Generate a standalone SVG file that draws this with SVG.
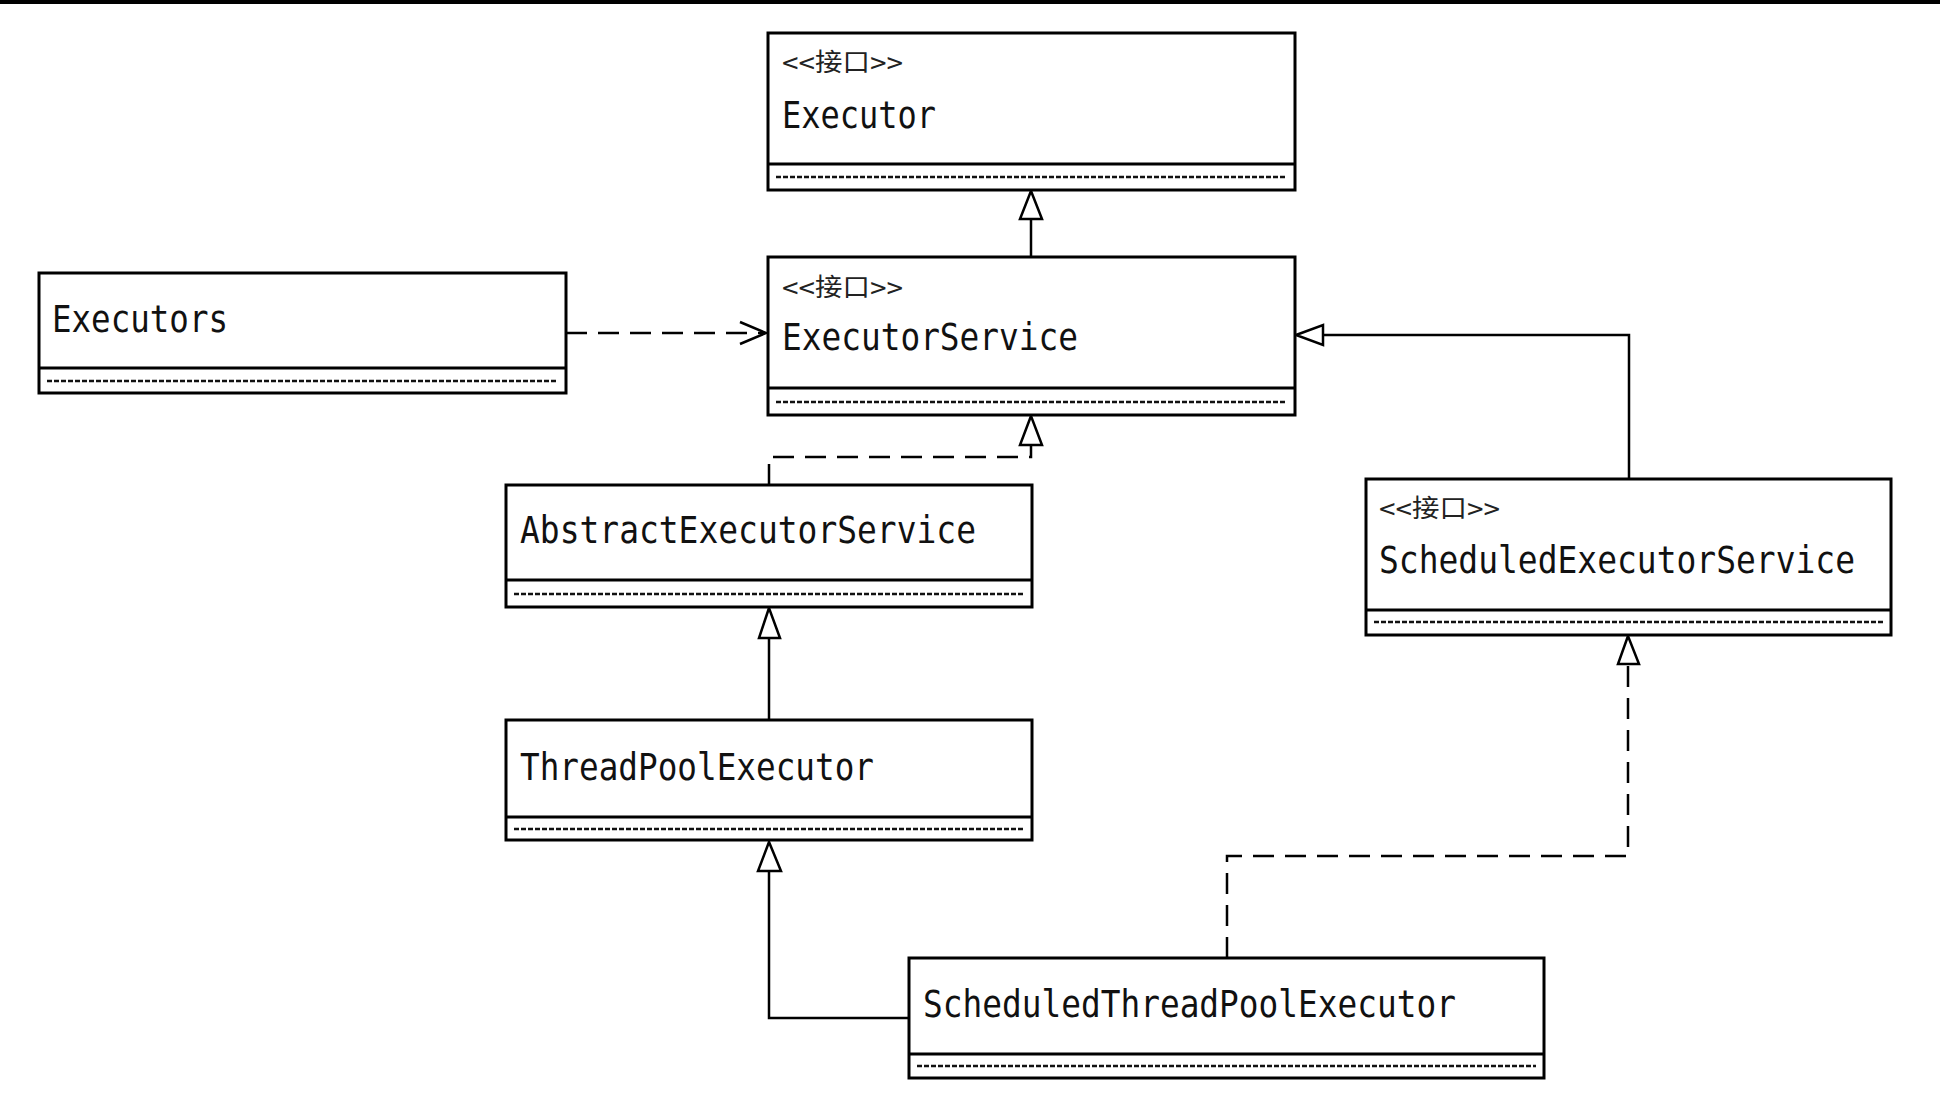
<svg xmlns="http://www.w3.org/2000/svg" width="1940" height="1107" viewBox="0 0 1940 1107">
<defs>
<style>
.box{fill:#fff;stroke:#000;stroke-width:3}
.div{stroke:#000;stroke-width:3}
.dots{stroke:#111;stroke-width:2.5;stroke-dasharray:5 2}
.name{font-family:"DejaVu Sans Mono","Liberation Mono","Noto Sans CJK SC",monospace;font-size:37px;fill:#111}
.st{font-family:"DejaVu Sans Mono","Noto Sans CJK SC",monospace;font-size:25px;fill:#222}
.ln{fill:none;stroke:#000;stroke-width:2.5}
.dash{fill:none;stroke:#000;stroke-width:2.5;stroke-dasharray:21 11}
.tri{fill:#fff;stroke:#000;stroke-width:2.5;stroke-linejoin:miter}
</style>
</defs>
<rect x="0" y="0" width="1940" height="1107" fill="#fff"/>
<rect x="0" y="0" width="1940" height="4" fill="#000"/>

<g id="connectors">
  <!-- ExecutorService -> Executor -->
  <line class="ln" x1="1031" y1="257" x2="1031" y2="219"/>
  <polygon class="tri" points="1031,191 1020,219 1042,219"/>
  <!-- Executors -> ExecutorService (dependency) -->
  <line class="dash" x1="566" y1="333" x2="765" y2="333"/>
  <polyline class="ln" points="740,322 766,333 740,344"/>
  <!-- AbstractExecutorService -> ExecutorService -->
  <polyline class="dash" points="769,485 769,457 1031,457 1031,445" stroke-dasharray="28 11"/>
  <polygon class="tri" points="1031,416 1020,445 1042,445"/>
  <!-- ScheduledExecutorService -> ExecutorService -->
  <polyline class="ln" points="1629,479 1629,335 1323,335"/>
  <polygon class="tri" points="1296,335 1323,325 1323,345"/>
  <!-- ThreadPoolExecutor -> AbstractExecutorService -->
  <line class="ln" x1="769" y1="720" x2="769" y2="638"/>
  <polygon class="tri" points="769,608 759,638 780,638"/>
  <!-- ScheduledThreadPoolExecutor -> ThreadPoolExecutor -->
  <polyline class="ln" points="909,1018 769,1018 769,871"/>
  <polygon class="tri" points="769,842 758,871 781,871"/>
  <!-- ScheduledThreadPoolExecutor -> ScheduledExecutorService -->
  <polyline class="dash" points="1227,958 1227,856 1628,856 1628,664"/>
  <polygon class="tri" points="1628,636 1618,664 1639,664"/>
</g>

<g id="executor">
  <rect class="box" x="768" y="33" width="527" height="157"/>
  <line class="div" x1="768" y1="164" x2="1295" y2="164"/>
  <line class="dots" x1="776" y1="177" x2="1287" y2="177"/>
  <text class="st" x="782" y="71" textLength="121" lengthAdjust="spacingAndGlyphs">&lt;&lt;接口&gt;&gt;</text>
  <text class="name" x="782" y="128" textLength="154" lengthAdjust="spacingAndGlyphs">Executor</text>
</g>

<g id="executorService">
  <rect class="box" x="768" y="257" width="527" height="158"/>
  <line class="div" x1="768" y1="388" x2="1295" y2="388"/>
  <line class="dots" x1="776" y1="402" x2="1287" y2="402"/>
  <text class="st" x="782" y="296" textLength="121" lengthAdjust="spacingAndGlyphs">&lt;&lt;接口&gt;&gt;</text>
  <text class="name" x="782" y="350" textLength="296" lengthAdjust="spacingAndGlyphs">ExecutorService</text>
</g>

<g id="executors">
  <rect class="box" x="39" y="273" width="527" height="120"/>
  <line class="div" x1="39" y1="368" x2="566" y2="368"/>
  <line class="dots" x1="47" y1="381" x2="558" y2="381"/>
  <text class="name" x="52" y="332" textLength="176" lengthAdjust="spacingAndGlyphs">Executors</text>
</g>

<g id="abstractExecutorService">
  <rect class="box" x="506" y="485" width="526" height="122"/>
  <line class="div" x1="506" y1="580" x2="1032" y2="580"/>
  <line class="dots" x1="514" y1="594" x2="1024" y2="594"/>
  <text class="name" x="520" y="543" textLength="456" lengthAdjust="spacingAndGlyphs">AbstractExecutorService</text>
</g>

<g id="threadPoolExecutor">
  <rect class="box" x="506" y="720" width="526" height="120"/>
  <line class="div" x1="506" y1="817" x2="1032" y2="817"/>
  <line class="dots" x1="514" y1="829" x2="1024" y2="829"/>
  <text class="name" x="520" y="780" textLength="354" lengthAdjust="spacingAndGlyphs">ThreadPoolExecutor</text>
</g>

<g id="scheduledExecutorService">
  <rect class="box" x="1366" y="479" width="525" height="156"/>
  <line class="div" x1="1366" y1="610" x2="1891" y2="610"/>
  <line class="dots" x1="1374" y1="622" x2="1883" y2="622"/>
  <text class="st" x="1379" y="517" textLength="121" lengthAdjust="spacingAndGlyphs">&lt;&lt;接口&gt;&gt;</text>
  <text class="name" x="1379" y="573" textLength="476" lengthAdjust="spacingAndGlyphs">ScheduledExecutorService</text>
</g>

<g id="scheduledThreadPoolExecutor">
  <rect class="box" x="909" y="958" width="635" height="120"/>
  <line class="div" x1="909" y1="1054" x2="1544" y2="1054"/>
  <line class="dots" x1="917" y1="1066" x2="1536" y2="1066"/>
  <text class="name" x="923" y="1017" textLength="533" lengthAdjust="spacingAndGlyphs">ScheduledThreadPoolExecutor</text>
</g>
</svg>
